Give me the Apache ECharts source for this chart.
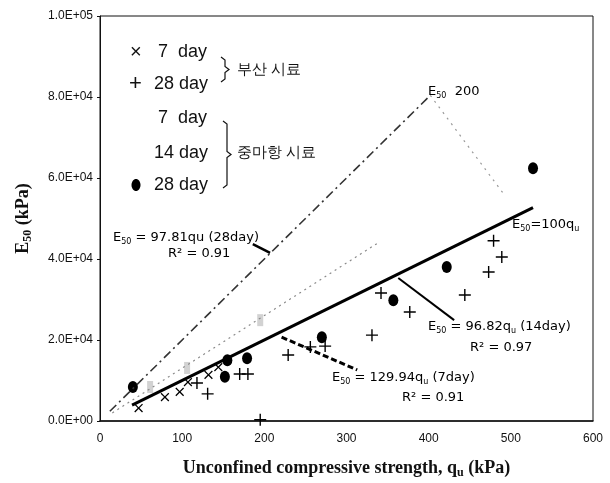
<!DOCTYPE html>
<html>
<head>
<meta charset="utf-8">
<script src="https://cdn.jsdelivr.net/npm/echarts@6/dist/echarts.min.js"></script>
<style>
html, body { margin: 0; padding: 0; background: #fff; }
#main { width: 610px; height: 483px; }
</style>
</head>
<body>
<div id="main"></div>
<script>
// 부산 시료 (qu kPa, E50 kPa)
var busan7 = [[47, 3200], [79, 5900], [97, 7200], [107, 9600], [132, 11400], [144, 13300]];
var busan28 = [[118, 9400], [131, 6700], [170, 11600], [180, 11600], [195, 300], [229, 16300],
  [256, 18300], [274, 18500], [331, 21200], [342, 31600], [377, 26900], [444, 31100],
  [473, 36800], [489, 40500], [479, 44500]];
// 중마항 시료
var jung7 = [[61, 8400], [106, 13100], [195, 24900]];
var jung28 = [[40, 8400], [152, 10900], [155, 15000], [179, 15500], [270, 20700],
  [357, 29800], [422, 38000], [527, 62400]];

// fitted / reference lines
var line100 = [[39, 3900], [527, 52700]];
var line200 = [[12, 2400], [402, 80400]];
var line200Tail = [[402, 80400], [493, 55600]];
var line7day = [[15, 2000], [340, 44200]];
var leader28 = [[186, 43700], [207, 41500]];
var leader14 = [[363, 35300], [431, 24900]];
var leader7 = [[221, 20700], [313, 12600]];

var yTickLabels = ['0.0E+00', '2.0E+04', '4.0E+04', '6.0E+04', '8.0E+04', '1.0E+05'];

var plusPath = 'path://M5.3,0H6.7V5.3H12V6.7H6.7V12H5.3V6.7H0V5.3H5.3Z';
var annFont = '"DejaVu Sans", "Noto Sans CJK KR", sans-serif';

function lineSeries (data, color, width, type) {
  return {
    type: 'line',
    data: data,
    symbol: 'none',
    silent: true,
    lineStyle: { color: color, width: width, type: type }
  };
}

var annRich = {
  n: { fontSize: 13, fontFamily: annFont, color: '#222', lineHeight: 16 },
  s: { fontSize: 8, fontFamily: annFont, color: '#222', lineHeight: 9, verticalAlign: 'bottom' }
};

function ann (x, y, text) {
  return {
    type: 'text',
    x: x,
    y: y,
    silent: true,
    style: { text: text, rich: annRich, verticalAlign: 'middle' }
  };
}

function legText (x, y, text, size) {
  return {
    type: 'text',
    x: x,
    y: y,
    silent: true,
    style: {
      text: text,
      fontSize: size || 18,
      fontFamily: '"Liberation Sans", Arial, sans-serif',
      fill: '#111',
      verticalAlign: 'middle'
    }
  };
}

function bracket (x, y1, y2) {
  var ym = (y1 + y2) / 2;
  return {
    type: 'polyline',
    silent: true,
    shape: { points: [[x - 4, y1], [x, y1 + 3], [x, ym - 3], [x + 4, ym], [x, ym + 3], [x, y2 - 3], [x - 4, y2]] },
    style: { stroke: '#111', lineWidth: 1.2, fill: null }
  };
}

var chart = echarts.init(document.getElementById('main'));
chart.setOption({
  animation: false,
  backgroundColor: '#fff',
  grid: {
    left: 100,
    right: 17,
    top: 16,
    bottom: 62,
    show: true,
    borderColor: '#111',
    borderWidth: 1,
    outerBoundsMode: 'none'
  },
  xAxis: {
    type: 'value',
    min: 0,
    max: 600,
    interval: 100,
    splitLine: { show: false },
    axisTick: { show: false },
    axisLine: { lineStyle: { color: '#111', width: 1.5 } },
    axisLabel: { color: '#111', fontSize: 12, fontFamily: '"Liberation Sans", Arial, sans-serif', margin: 12 },
    name: '{b|Unconfined compressive strength, q}{bs|u}{b| (kPa)}',
    nameLocation: 'middle',
    nameGap: 36,
    nameTextStyle: {
      rich: {
        b: { fontSize: 18, fontWeight: 'bold', fontFamily: '"Liberation Serif", "DejaVu Serif", serif', color: '#111', lineHeight: 22 },
        bs: { fontSize: 12, fontWeight: 'bold', fontFamily: '"Liberation Serif", "DejaVu Serif", serif', color: '#111', lineHeight: 12, verticalAlign: 'bottom' }
      }
    }
  },
  yAxis: {
    type: 'value',
    min: 0,
    max: 100000,
    interval: 20000,
    splitLine: { show: false },
    axisTick: { show: true, length: 3, lineStyle: { color: '#111' } },
    axisLine: { show: true, lineStyle: { color: '#111', width: 1 } },
    axisLabel: {
      color: '#111',
      fontSize: 12,
      fontFamily: '"Liberation Sans", Arial, sans-serif',
      margin: 7,
      formatter: function (v, i) { return yTickLabels[i] }
    },
    name: '{b|E}{bs|50}{b| (kPa)}',
    nameLocation: 'middle',
    nameGap: 66,
    nameTextStyle: {
      rich: {
        b: { fontSize: 18, fontWeight: 'bold', fontFamily: '"Liberation Serif", "DejaVu Serif", serif', color: '#111', lineHeight: 22 },
        bs: { fontSize: 12, fontWeight: 'bold', fontFamily: '"Liberation Serif", "DejaVu Serif", serif', color: '#111', lineHeight: 12, verticalAlign: 'bottom' }
      }
    }
  },
  series: [
    lineSeries(line7day, '#8a8a8a', 1.2, [2, 4]),
    lineSeries(line200, '#333', 1.6, [9, 4, 2, 4]),
    lineSeries(line200Tail, '#999', 1.2, [2, 5]),
    lineSeries(line100, '#000', 3, 'solid'),
    lineSeries(leader28, '#000', 2.5, 'solid'),
    lineSeries(leader14, '#000', 2, 'solid'),
    lineSeries(leader7, '#000', 3, [6, 3]),
    {
      name: '부산 7 day',
      type: 'scatter',
      data: busan7,
      symbol: plusPath,
      symbolRotate: 45,
      symbolSize: 11,
      itemStyle: { color: '#000', opacity: 1 }
    },
    {
      name: '부산 28 day',
      type: 'scatter',
      data: busan28,
      symbol: plusPath,
      symbolSize: 12,
      itemStyle: { color: '#000', opacity: 1 }
    },
    {
      name: '중마항 7 day',
      type: 'scatter',
      data: jung7,
      symbol: 'rect',
      symbolSize: [6, 12],
      itemStyle: { color: '#d2d2d2', opacity: 1 }
    },
    {
      name: '중마항 28 day',
      type: 'scatter',
      data: jung28,
      symbol: 'circle',
      symbolSize: [10, 12],
      itemStyle: { color: '#000', opacity: 1 }
    }
  ],
  graphic: [
    // legend
    legText(130, 52, '×', 20),
    legText(158, 52, '7  day'),
    legText(129, 84, '+', 22),
    legText(154, 84, '28 day'),
    legText(158, 118, '7  day'),
    legText(154, 153, '14 day'),
    { type: 'ellipse', silent: true, shape: { cx: 136, cy: 185, rx: 4.5, ry: 6 }, style: { fill: '#000' } },
    legText(154, 185, '28 day'),
    bracket(225, 57, 82),
    bracket(227, 121, 188),
    legText(237, 70, '부산 시료', 15),
    legText(237, 153, '중마항 시료', 15),
    // equations
    ann(113, 238, '{n|E}{s|50}{n| = 97.81qu (28day)}'),
    ann(168, 254, '{n|R² = 0.91}'),
    ann(428, 92, '{n|E}{s|50}{n|  200}'),
    ann(512, 225, '{n|E}{s|50}{n|=100q}{s|u}'),
    ann(428, 327, '{n|E}{s|50}{n| = 96.82q}{s|u}{n| (14day)}'),
    ann(470, 348, '{n|R² = 0.97}'),
    ann(332, 378, '{n|E}{s|50}{n| = 129.94q}{s|u}{n| (7day)}'),
    ann(402, 398, '{n|R² = 0.91}')
  ]
});
</script>
</body>
</html>
